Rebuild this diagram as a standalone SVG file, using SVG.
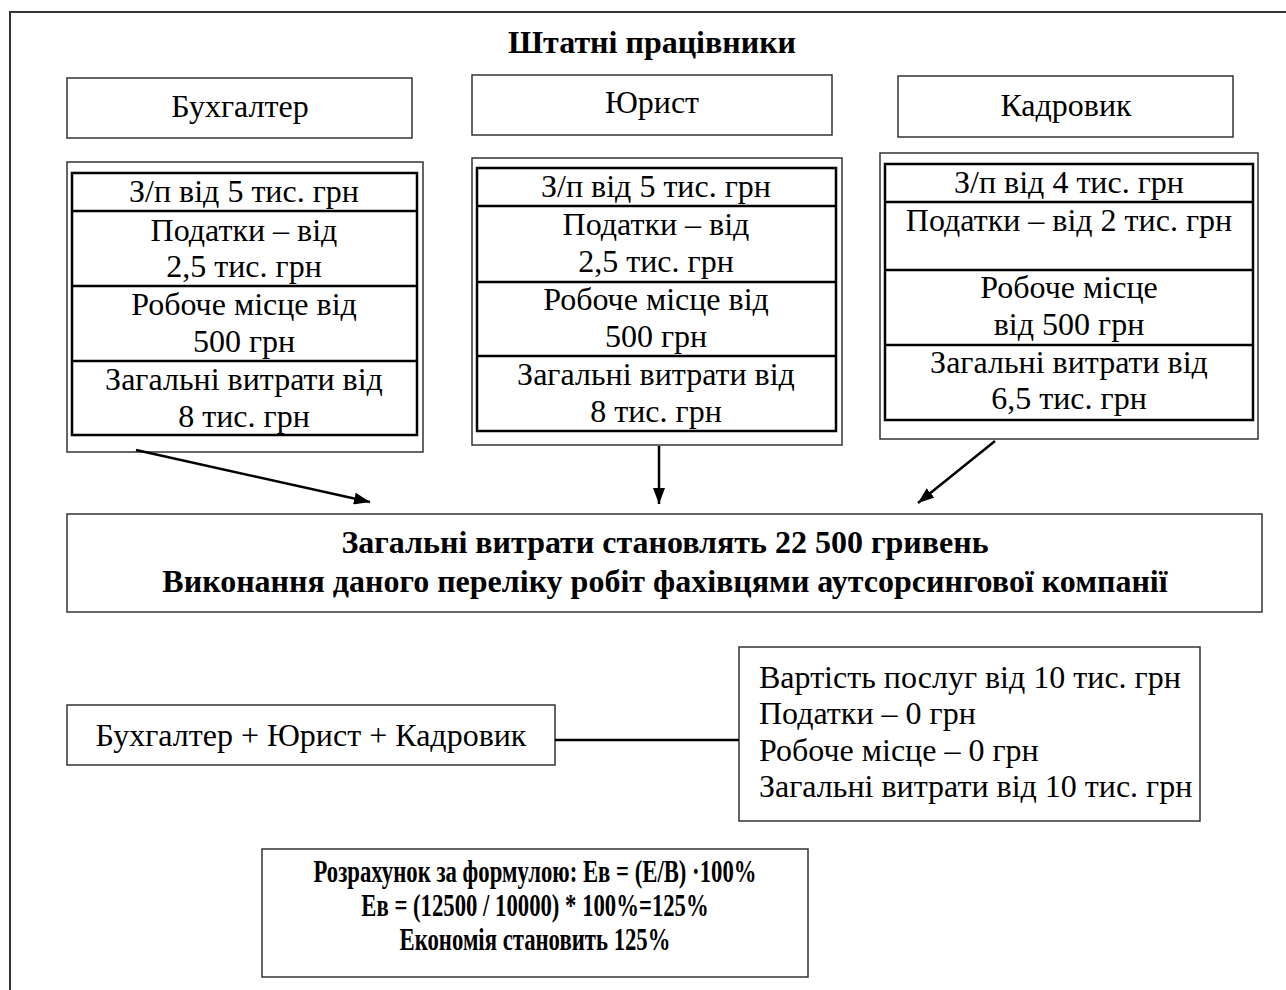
<svg xmlns="http://www.w3.org/2000/svg" width="1286" height="990" viewBox="0 0 1286 990">
<defs>
<style>
text{font-family:"Liberation Serif","Times New Roman",serif;fill:#000}
.t{font-size:32px;text-anchor:middle}
.tl{font-size:32px;text-anchor:start}
.b{font-size:32px;font-weight:bold;text-anchor:middle}
.bc{font-size:32px;font-weight:bold;text-anchor:middle}
.box{fill:#fff;stroke:#333;stroke-width:1.5}
.tbl{fill:none;stroke:#000;stroke-width:2.5}
.row{stroke:#000;stroke-width:2.5}
.con{stroke:#000;stroke-width:2.5;fill:none}
</style>
<marker id="ah" viewBox="0 0 16 12" refX="16" refY="6" markerWidth="16" markerHeight="12" markerUnits="userSpaceOnUse" orient="auto">
<path d="M0,0 L16,6 L0,12 z" fill="#000"/>
</marker>
</defs>
<rect x="0" y="0" width="1286" height="990" fill="#fff"/>
<rect id="frame" x="10" y="12" width="1300" height="1000" fill="none" stroke="#333" stroke-width="2"/>
<text class="b" x="652" y="53">Штатні працівники</text>

<g id="n-buh">
<rect class="box" x="67" y="78" width="345" height="60"/>
<text class="t" x="240" y="117">Бухгалтер</text>
</g>
<g id="n-jur">
<rect class="box" x="472" y="75" width="360" height="60"/>
<text class="t" x="652" y="113">Юрист</text>
</g>
<g id="n-kad">
<rect class="box" x="898" y="76" width="335" height="61"/>
<text class="t" x="1066" y="116">Кадровик</text>
</g>

<g id="n-buh-costs">
<rect class="box" x="67" y="162" width="356" height="290"/>
<rect class="tbl" x="72" y="173" width="345" height="262"/>
<line class="row" x1="72" y1="211" x2="417" y2="211"/>
<line class="row" x1="72" y1="286" x2="417" y2="286"/>
<line class="row" x1="72" y1="361" x2="417" y2="361"/>
<text class="t" x="244" y="202">З/п від 5 тис. грн</text>
<text class="t" x="244" y="241">Податки – від</text>
<text class="t" x="244" y="277">2,5 тис. грн</text>
<text class="t" x="244" y="315">Робоче місце від</text>
<text class="t" x="244" y="352">500 грн</text>
<text class="t" x="244" y="390">Загальні витрати від</text>
<text class="t" x="244" y="427">8 тис. грн</text>
</g>

<g id="n-jur-costs">
<rect class="box" x="472" y="158" width="370" height="287"/>
<rect class="tbl" x="477" y="168" width="359" height="263"/>
<line class="row" x1="477" y1="206" x2="836" y2="206"/>
<line class="row" x1="477" y1="282" x2="836" y2="282"/>
<line class="row" x1="477" y1="356" x2="836" y2="356"/>
<text class="t" x="656" y="197">З/п від 5 тис. грн</text>
<text class="t" x="656" y="235">Податки – від</text>
<text class="t" x="656" y="272">2,5 тис. грн</text>
<text class="t" x="656" y="310">Робоче місце від</text>
<text class="t" x="656" y="347">500 грн</text>
<text class="t" x="656" y="385">Загальні витрати від</text>
<text class="t" x="656" y="422">8 тис. грн</text>
</g>

<g id="n-kad-costs">
<rect class="box" x="880" y="153" width="378" height="286"/>
<rect class="tbl" x="885" y="164" width="368" height="256"/>
<line class="row" x1="885" y1="202" x2="1253" y2="202"/>
<line class="row" x1="885" y1="270" x2="1253" y2="270"/>
<line class="row" x1="885" y1="345" x2="1253" y2="345"/>
<text class="t" x="1069" y="193">З/п від 4 тис. грн</text>
<text class="t" x="1069" y="231">Податки – від 2 тис. грн</text>
<text class="t" x="1069" y="298">Робоче місце</text>
<text class="t" x="1069" y="335">від 500 грн</text>
<text class="t" x="1069" y="373">Загальні витрати від</text>
<text class="t" x="1069" y="409">6,5 тис. грн</text>
</g>

<g id="n-total">
<rect class="box" x="67" y="514" width="1195" height="98"/>
<text class="b" x="665" y="553">Загальні витрати становлять 22 500 гривень</text>
<text class="b" x="665" y="592">Виконання даного переліку робіт фахівцями аутсорсингової компанії</text>
</g>

<g id="n-combo">
<rect class="box" x="67" y="705" width="488" height="60"/>
<text class="t" x="311" y="746">Бухгалтер + Юрист + Кадровик</text>
</g>

<g id="n-outsrc">
<rect class="box" x="739" y="647" width="461" height="174"/>
<text class="tl" x="759" y="688">Вартість послуг від 10 тис. грн</text>
<text class="tl" x="759" y="724">Податки – 0 грн</text>
<text class="tl" x="759" y="761">Робоче місце – 0 грн</text>
<text class="tl" x="759" y="797">Загальні витрати від 10 тис. грн</text>
</g>

<g id="n-formula">
<rect class="box" x="262" y="849" width="546" height="128"/>
<g transform="translate(535,0) scale(0.71,1)">
<text class="bc" x="0" y="882">Розрахунок за формулою: Ев = (Е/В) ·100%</text>
<text class="bc" x="0" y="916">Ев = (12500 / 10000) * 100%=125%</text>
<text class="bc" x="0" y="950">Економія становить 125%</text>
</g>
</g>

<g id="connectors">
<line class="con" x1="136" y1="450" x2="370" y2="502" marker-end="url(#ah)"/>
<line class="con" x1="659" y1="446" x2="659" y2="504" marker-end="url(#ah)"/>
<line class="con" x1="995" y1="441" x2="918" y2="503" marker-end="url(#ah)"/>
<line class="con" x1="555" y1="740" x2="739" y2="740"/>
</g>
</svg>
